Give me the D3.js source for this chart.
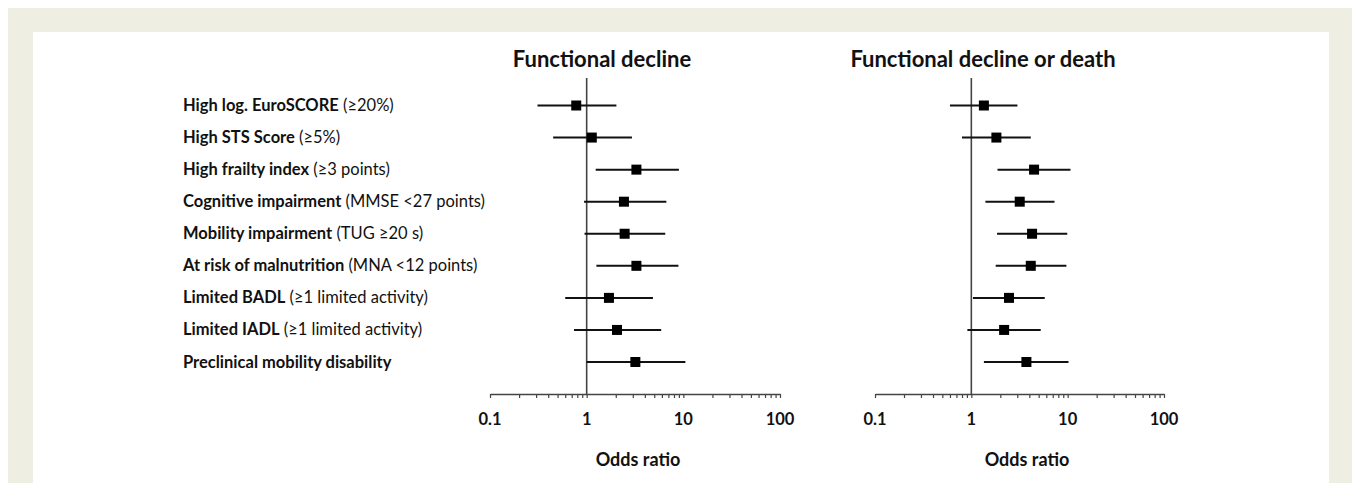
<!DOCTYPE html>
<html>
<head>
<meta charset="utf-8">
<script src="https://cdn.jsdelivr.net/npm/d3@7"></script>
<style>
  body { margin: 0; background: #fff; }
  svg { display: block; font-family: Lato, "Open Sans", sans-serif; }
</style>
</head>
<body>
<svg id="chart" width="1354" height="483"></svg>
<script>
// ---------- data ----------
const labelsBold = [
  "High log. EuroSCORE", "High STS Score", "High frailty index",
  "Cognitive impairment", "Mobility impairment", "At risk of malnutrition",
  "Limited BADL", "Limited IADL", "Preclinical mobility disability"
];
const labelsRegular = [
  " (\u226520%)", " (\u22655%)", " (\u22653 points)",
  " (MMSE <27 points)", " (TUG \u226520 s)", " (MNA <12 points)",
  " (\u22651 limited activity)", " (\u22651 limited activity)", ""
];
const panelTitles = ["Functional decline", "Functional decline or death"];

// Functional decline: odds ratio, lower CI, upper CI
const fdOR    = [0.78, 1.13, 3.27, 2.43, 2.47, 3.27, 1.70, 2.06, 3.19];
const fdLower = [0.31, 0.45, 1.24, 0.94, 0.95, 1.26, 0.60, 0.74, 1.00];
const fdUpper = [2.03, 2.94, 9.00, 6.67, 6.50, 8.90, 4.85, 5.90, 10.5];

// Functional decline or death
const fddOR    = [1.35, 1.82, 4.48, 3.18, 4.27, 4.14, 2.46, 2.19, 3.73];
const fddLower = [0.60, 0.80, 1.87, 1.40, 1.85, 1.79, 1.04, 0.91, 1.35];
const fddUpper = [3.01, 4.14, 10.7, 7.30, 9.90, 9.70, 5.78, 5.25, 10.2];

const tickLabels = [0.1, 1, 10, 100];
const axisTitle = "Odds ratio";

// ---------- layout ----------
const svg = d3.select("#chart");
svg.append("rect").attr("x", 0).attr("y", 0).attr("width", 1354).attr("height", 483).attr("fill", "#fff");
svg.append("rect").attr("x", 8).attr("y", 8).attr("width", 1344).attr("height", 475).attr("fill", "#eeeee3");
svg.append("rect").attr("x", 33).attr("y", 32).attr("width", 1296).attr("height", 451).attr("fill", "#fff");

const y = d3.scalePoint().domain(d3.range(labelsBold.length)).range([105.5, 362]);
const axisY = 394;
const refTop = 78;

// row labels
const lab = svg.append("g").attr("font-size", 16.5).attr("fill", "#111");
labelsBold.forEach((b, i) => {
  const t = lab.append("text").attr("x", 183).attr("y", y(i) + 5.5);
  t.append("tspan").attr("font-weight", "bold").text(b);
  t.append("tspan").text(labelsRegular[i]);
});

const panels = [
  { title: panelTitles[0], or: fdOR, lo: fdLower, hi: fdUpper, range: [490, 780], titleX: 602, axisTitleX: 638 },
  { title: panelTitles[1], or: fddOR, lo: fddLower, hi: fddUpper, range: [875, 1164], titleX: 983, axisTitleX: 1027 }
];

const minorTicks = [];
[0.1, 1, 10].forEach(d => { for (let k = 1; k <= 9; k++) minorTicks.push(+(d * k).toPrecision(3)); });
minorTicks.push(100);

panels.forEach(p => {
  const x = d3.scaleLog().domain([0.1, 100]).range(p.range);
  const g = svg.append("g");

  // title
  g.append("text").attr("x", p.titleX).attr("y", 67).attr("text-anchor", "middle")
    .attr("font-size", 22).attr("font-weight", "bold").attr("fill", "#111").text(p.title);

  // axis
  const ax = d3.axisBottom(x).tickValues(minorTicks).tickSize(4).tickSizeOuter(0).tickFormat("");
  const axG = g.append("g").attr("transform", `translate(0,${axisY})`).call(ax);
  axG.select(".domain").attr("stroke", "#444").attr("stroke-width", 1.6);
  axG.selectAll(".tick line").attr("stroke", "#444").attr("stroke-width", 1.2);

  // tick labels
  g.selectAll(".tl").data(tickLabels).join("text")
    .attr("x", d => x(d)).attr("y", 425).attr("text-anchor", "middle")
    .attr("font-size", 16.5).attr("font-weight", "bold").attr("fill", "#111")
    .text(d => d);

  g.append("text").attr("x", p.axisTitleX).attr("y", 466).attr("text-anchor", "middle")
    .attr("font-size", 18).attr("font-weight", "bold").attr("fill", "#111").text(axisTitle);

  // reference line at OR = 1
  g.append("line").attr("x1", x(1)).attr("x2", x(1)).attr("y1", refTop).attr("y2", axisY)
    .attr("stroke", "#444").attr("stroke-width", 1.6);

  // CIs
  g.selectAll(".ci").data(p.or).join("line")
    .attr("x1", (d, i) => x(p.lo[i])).attr("x2", (d, i) => x(p.hi[i]))
    .attr("y1", (d, i) => y(i)).attr("y2", (d, i) => y(i))
    .attr("stroke", "#111").attr("stroke-width", 2);

  // point estimates
  const s = 10;
  g.selectAll(".pt").data(p.or).join("rect")
    .attr("x", d => x(d) - s / 2).attr("y", (d, i) => y(i) - s / 2)
    .attr("width", s).attr("height", s).attr("fill", "#000");
});
</script>
</body>
</html>
